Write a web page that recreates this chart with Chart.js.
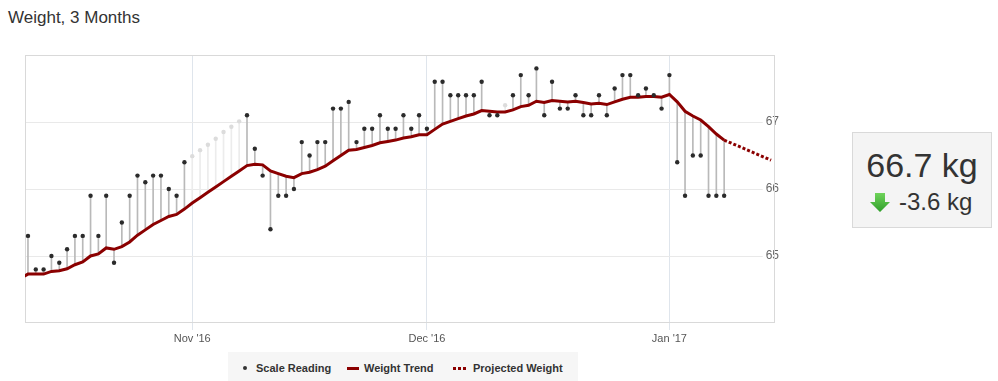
<!DOCTYPE html>
<html>
<head>
<meta charset="utf-8">
<script src="https://cdn.jsdelivr.net/npm/chart.js@4/dist/chart.umd.min.js"></script>
<style>
    body { margin: 0; width: 998px; height: 381px; position: relative; overflow: hidden; background: #fff; font-family: "Liberation Sans", Arial, sans-serif; color: #333; }
    #title { position: absolute; left: 8px; top: 8px; font-size: 17px; line-height: 20px; color: #333; }
    #wrap { position: absolute; left: 0; top: 0; width: 998px; height: 381px; }
    #legend { position: absolute; left: 228px; top: 352px; width: 350px; height: 29px; background: #f6f6f6; }
    .lg { position: absolute; font-size: 11px; line-height: 11px; font-weight: bold; color: #333; white-space: nowrap; }
    .sym { position: absolute; }
    #stat { position: absolute; left: 852px; top: 132px; width: 140px; height: 96px; box-sizing: border-box; background: #f4f4f4; border: 1px solid #d9d9d9; }
    #big { position: absolute; left: 852px; width: 140px; top: 148px; text-align: center; font-size: 34px; line-height: 34px; color: #333; }
    #delta { position: absolute; left: 899px; top: 190px; font-size: 24px; line-height: 24px; color: #333; }
    #arrow { position: absolute; left: 870px; top: 193px; }
</style>
</head>
<body>
<div id="title">Weight, 3 Months</div>
<div id="wrap"><canvas id="chart" width="998" height="381"></canvas></div>

<div id="legend"></div>
<div class="sym" style="left:243px;top:366px;width:4px;height:4px;border-radius:50%;background:#333"></div>
<div class="lg" style="left:256px;top:363px">Scale Reading</div>
<div class="sym" style="left:347px;top:367px;width:12px;height:3px;background:#8b0000"></div>
<div class="lg" style="left:364px;top:363px">Weight Trend</div>
<div class="sym" style="left:453px;top:367px;width:3px;height:3px;background:#8b0000"></div>
<div class="sym" style="left:458px;top:367px;width:3px;height:3px;background:#8b0000"></div>
<div class="sym" style="left:463px;top:367px;width:3px;height:3px;background:#8b0000"></div>
<div class="lg" style="left:473px;top:363px">Projected Weight</div>

<div id="stat"></div>
<div id="big">66.7 kg</div>
<svg id="arrow" width="20" height="20" viewBox="0 0 20 20">
    <defs>
        <linearGradient id="ag" x1="0" y1="0" x2="0" y2="1">
            <stop offset="0" stop-color="#6fd35a"/>
            <stop offset="1" stop-color="#2f9f2a"/>
        </linearGradient>
    </defs>
    <polygon points="5,0 15,0 15,9 20,9 10,19 0,9 5,9" fill="url(#ag)"/>
</svg>
<div id="delta">-3.6 kg</div>

<script>
// days counted from Oct 11 2016 (day 0 = first reading)
const tickDays = [21, 51, 82];
const tickLabels = ["Nov '16", "Dec '16", "Jan '17"];
const yTicks = [65, 66, 67];

const readings = [
    65.3, 64.8, 64.8, 65.0, 64.9, 65.1, 65.3, 65.3, 65.9, 65.3,
    65.9, 64.9, 65.5, 65.9, 66.2, 66.1, 66.2, 66.2, 66.0, 65.9,
    66.4, 66.49, 66.58, 66.66, 66.75, 66.85, 66.93, 67.01, 67.1, 66.6,
    66.2, 65.4, 65.9, 65.9, 66.0, 66.7, 66.5, 66.7, 66.7, 67.2,
    67.2, 67.3, 66.7, 66.9, 66.9, 67.1, 66.9, 66.9, 67.1, 66.9,
    67.1, 66.9, 67.6, 67.6, 67.4, 67.4, 67.4, 67.4, 67.6, 67.1,
    67.1, 67.25, 67.4, 67.7, 67.4, 67.8, 67.1, 67.6, 67.2, 67.2,
    67.4, 67.1, 67.1, 67.4, 67.1, 67.5, 67.7, 67.7, 67.4, 67.5,
    67.4, 67.2, 67.7, 66.4, 65.9, 66.5, 66.5, 65.9, 65.9, 65.9
];
// days with no scale reading (drawn faded)
const estimatedDays = [21, 22, 23, 24, 25, 26, 27, 61];

// trend starts one day before the first reading
const trendStart = -1;
const trend = [
    64.66,
    64.73, 64.73, 64.73, 64.77, 64.78, 64.81, 64.87, 64.91, 65.00, 65.03,
    65.12, 65.10, 65.14, 65.21, 65.31, 65.39, 65.47, 65.53, 65.59, 65.62,
    65.70, 65.79, 65.87, 65.95, 66.03, 66.11, 66.19, 66.27, 66.35, 66.37,
    66.36, 66.27, 66.23, 66.19, 66.17, 66.23, 66.25, 66.29, 66.34, 66.42,
    66.50, 66.58, 66.59, 66.62, 66.65, 66.69, 66.71, 66.73, 66.76, 66.78,
    66.81, 66.81, 66.89, 66.97, 67.01, 67.05, 67.09, 67.12, 67.17, 67.16,
    67.15, 67.15, 67.18, 67.23, 67.25, 67.31, 67.29, 67.32, 67.31, 67.30,
    67.31, 67.29, 67.27, 67.28, 67.26, 67.30, 67.34, 67.37, 67.37, 67.38,
    67.38, 67.37, 67.41, 67.30, 67.16, 67.09, 67.03, 66.93, 66.82, 66.73
];

const projectedDays = [89, 95];
const projected = [66.73, 66.43];

const TREND_COLOR = '#8b0000';

const isEstimated = (i) => estimatedDays.includes(i);
const trendAt = (day) => trend[day - trendStart];

const plotBorder = {
    id: 'plotBorder',
    beforeDatasetsDraw(chart) {
        const { ctx, chartArea: a } = chart;
        ctx.save();
        ctx.strokeStyle = '#d9d9d9';
        ctx.lineWidth = 1;
        ctx.strokeRect(Math.round(a.left) + 0.5, Math.round(a.top) + 0.5, Math.round(a.width) - 1, Math.round(a.height) - 1);
        ctx.restore();
    }
};

Chart.defaults.font.family = '"Liberation Sans", Arial, sans-serif';

new Chart(document.getElementById('chart'), {
    type: 'line',
    data: {
        datasets: [
            {
                label: 'Scale Reading',
                data: readings.map((v, i) => ({ x: i, y: v })),
                showLine: false,
                pointRadius: 2.2,
                pointBorderWidth: 0,
                pointBackgroundColor: readings.map((v, i) => isEstimated(i) ? '#dcdcdc' : '#2b2b2b'),
                order: 0
            },
            {
                label: 'Weight Trend',
                data: trend.map((v, i) => ({ x: i + trendStart, y: v })),
                borderColor: TREND_COLOR,
                borderWidth: 3,
                pointRadius: 0,
                tension: 0,
                order: 1
            },
            {
                label: 'Projected Weight',
                data: projectedDays.map((d, i) => ({ x: d, y: projected[i] })),
                borderColor: TREND_COLOR,
                borderWidth: 3,
                borderDash: [3, 2],
                pointRadius: 0,
                order: 2
            },
            {
                label: 'stems',
                type: 'bar',
                data: readings.map((v, i) => ({ x: i, y: [trendAt(i), v] })),
                backgroundColor: readings.map((v, i) => isEstimated(i) ? '#ececec' : '#b9b9b9'),
                borderWidth: 0,
                barThickness: 1,
                order: 3
            }
        ]
    },
    options: {
        responsive: false,
        animation: false,
        events: [],
        layout: { padding: { left: 25, top: 55, right: 223, bottom: 38 } },
        plugins: {
            legend: { display: false },
            tooltip: { enabled: false }
        },
        scales: {
            x: {
                type: 'linear',
                min: -0.38,
                max: 95.5,
                offset: false,
                afterBuildTicks: (s) => { s.ticks = tickDays.map((v) => ({ value: v })); },
                afterFit: (s) => { s.height = 20; },
                border: { display: false },
                grid: { offset: false, color: '#dfe5ec', tickColor: '#dfe5ec', tickLength: 7 },
                ticks: {
                    autoSkip: false,
                    maxRotation: 0,
                    padding: 2,
                    color: '#555',
                    font: { size: 11 },
                    callback: (v, i) => tickLabels[i]
                }
            },
            y: {
                type: 'linear',
                position: 'right',
                min: 64,
                max: 68,
                afterBuildTicks: (s) => { s.ticks = yTicks.map((v) => ({ value: v })); },
                afterFit: (s) => { s.width = 0; },
                border: { display: false },
                grid: { color: '#e9e9e9', drawTicks: false },
                ticks: {
                    mirror: true,
                    padding: 4,
                    color: '#666',
                    font: { size: 12 },
                    showLabelBackdrop: true,
                    backdropColor: '#fff',
                    backdropPadding: { left: 3, right: 0, top: 0, bottom: 0 }
                }
            }
        }
    },
    plugins: [plotBorder]
});
</script>
</body>
</html>
